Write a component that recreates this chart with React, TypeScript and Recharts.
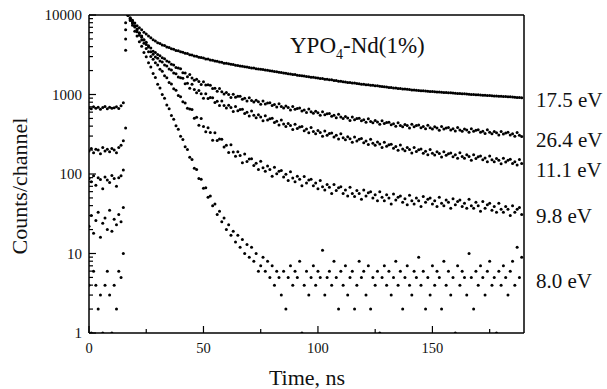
import { ScatterChart, Scatter, XAxis, YAxis, ReferenceDot } from "recharts"

const FONT = '"Liberation Serif", "Times New Roman", serif'

// one channel per ns, channel index = time
const CHANNEL_NS = 1

const X_TICKS = [0, 25, 50, 75, 100, 125, 150, 175]
const X_LABELS = [0, 50, 100, 150]
const Y_TICKS = [
  1, 2, 3, 4, 5, 6, 7, 8, 9, 10, 20, 30, 40, 50, 60, 70, 80, 90, 100, 200, 300, 400, 500, 600, 700, 800, 900, 1000,
  2000, 3000, 4000, 5000, 6000, 7000, 8000, 9000, 10000,
]
const Y_LABELS = [1, 10, 100, 1000, 10000]

// counts per channel, t = 0..189 ns
const S175 = [
  680, 660, 700, 670, 690, 650, 685, 705, 660, 690,
  670, 680, 700, 665, 720, 790, 8000, 10000, 9250, 8600,
  7950, 7350, 6900, 6500, 6080, 5770, 5430, 5180, 4880, 4720,
  4480, 4370, 4180, 4120, 3960, 3900, 3760, 3710, 3580, 3550,
  3440, 3400, 3300, 3270, 3170, 3140, 3050, 3030, 2940, 2910,
  2870, 2800, 2790, 2720, 2700, 2630, 2620, 2560, 2550, 2480,
  2470, 2430, 2400, 2380, 2330, 2320, 2280, 2270, 2230, 2220,
  2180, 2160, 2150, 2110, 2100, 2075, 2060, 2030, 2015, 1990,
  1975, 1945, 1935, 1900, 1895, 1865, 1855, 1825, 1815, 1790,
  1780, 1750, 1735, 1720, 1705, 1680, 1675, 1650, 1645, 1620,
  1612, 1590, 1585, 1560, 1555, 1532, 1528, 1500, 1498, 1472,
  1468, 1445, 1440, 1420, 1416, 1395, 1392, 1372, 1368, 1350,
  1346, 1328, 1325, 1306, 1304, 1286, 1284, 1266, 1262, 1248,
  1244, 1228, 1224, 1210, 1206, 1190, 1188, 1176, 1170, 1162,
  1156, 1142, 1140, 1128, 1126, 1116, 1114, 1104, 1102, 1092,
  1090, 1082, 1078, 1072, 1070, 1062, 1060, 1052, 1050, 1042,
  1040, 1032, 1030, 1022, 1020, 1012, 1010, 1002, 1000, 992,
  990, 984, 982, 976, 974, 968, 966, 960, 958, 952,
  950, 944, 942, 936, 934, 928, 926, 920, 918, 912,
]

const S264 = [
  195, 210, 185, 205, 200, 180, 215, 195, 205, 190,
  210, 200, 185, 215, 230, 262, 6500, 10000, 9000, 8150,
  7250, 6650, 5950, 5450, 4900, 4550, 4100, 3850, 3500, 3380,
  3180, 3080, 2890, 2820, 2630, 2570, 2410, 2350, 2190, 2150,
  2110, 1880, 1870, 1670, 1790, 1610, 1510, 1555, 1460, 1335,
  1450, 1315, 1325, 1310, 1190, 1200, 1100, 1190, 1080, 1015,
  1060, 998, 915, 1008, 926, 948, 952, 873, 895, 830,
  910, 840, 802, 848, 811, 752, 828, 762, 783, 788,
  726, 746, 694, 764, 705, 676, 717, 688, 639, 706,
  651, 669, 674, 621, 639, 595, 655, 605, 580, 615,
  590, 548, 605, 558, 574, 578, 534, 548, 510, 563,
  520, 498, 528, 507, 471, 521, 482, 498, 503, 466,
  481, 448, 496, 459, 442, 470, 452, 421, 466, 431,
  445, 449, 415, 428, 399, 441, 408, 394, 420, 406,
  380, 422, 392, 406, 412, 382, 396, 371, 411, 382,
  369, 393, 380, 355, 395, 367, 379, 385, 357, 370,
  347, 385, 357, 346, 369, 357, 334, 371, 344, 356,
  361, 335, 346, 324, 359, 334, 322, 343, 331, 309,
  343, 319, 329, 334, 309, 320, 299, 332, 308, 297,
]

const S111 = [
  88, 80, 95, 72, 90, 85, 65, 92, 84, 78,
  96, 88, 70, 90, 95, 112, 5000, 10000, 9000, 8050,
  7350, 6500, 5950, 5250, 4850, 4250, 3950, 3450, 3200, 2960,
  2860, 2640, 2560, 2350, 2290, 2090, 2040, 1860, 1820, 1660,
  1620, 1600, 1365, 1390, 1200, 1350, 1160, 1055, 1120, 1025,
  896, 1020, 890, 915, 912, 796, 820, 725, 830, 729,
  677, 735, 688, 612, 707, 625, 649, 654, 577, 600,
  536, 618, 547, 511, 557, 522, 466, 540, 477, 496,
  501, 443, 462, 413, 477, 424, 397, 433, 406, 363,
  421, 373, 389, 395, 351, 368, 331, 385, 343, 322,
  353, 333, 298, 347, 308, 323, 329, 292, 307, 276,
  320, 286, 269, 295, 278, 250, 292, 261, 274, 279,
  248, 261, 235, 274, 244, 230, 253, 239, 215, 250,
  223, 234, 237, 211, 221, 199, 231, 207, 196, 215,
  204, 184, 215, 192, 202, 206, 183, 193, 175, 204,
  183, 173, 191, 181, 164, 191, 172, 180, 184, 165,
  175, 158, 185, 166, 158, 175, 166, 149, 175, 157,
  165, 169, 151, 159, 143, 168, 151, 143, 157, 149,
  135, 158, 142, 149, 153, 136, 143, 130, 152, 136,
]

const S98 = [
  22, 30, 18, 26, 33, 16, 24, 28, 20, 35,
  19, 27, 23, 31, 25, 38, 3600, 10000, 8900, 7850,
  7050, 6150, 5550, 4850, 4400, 3800, 3460, 3000, 2780, 2500,
  2350, 2080, 1960, 1720, 1630, 1420, 1360, 1180, 1130, 970,
  940, 810, 780, 670, 655, 649, 504, 518, 410, 500,
  395, 340, 381, 332, 265, 331, 264, 276, 274, 218,
  230, 186, 233, 189, 167, 191, 171, 139, 178, 144,
  154, 156, 128, 137, 114, 145, 120, 108, 126, 114,
  94, 122, 101, 108, 111, 92, 99, 83, 107, 89,
  80, 94, 86, 71, 93, 77, 84, 86, 71, 77,
  65, 83, 69, 63, 74, 68, 57, 74, 62, 67,
  69, 57, 63, 53, 68, 57, 52, 62, 57, 48,
  63, 53, 58, 60, 50, 55, 46, 60, 51, 46,
  55, 50, 42, 56, 47, 51, 53, 44, 49, 41,
  54, 46, 42, 50, 46, 39, 52, 44, 48, 50,
  42, 46, 39, 51, 43, 40, 47, 44, 37, 49,
  41, 45, 47, 39, 43, 37, 48, 40, 37, 44,
  40, 34, 45, 37, 41, 43, 35, 39, 33, 43,
  36, 33, 39, 36, 30, 40, 33, 36, 38, 31,
]

const S80 = [
  4, 1, 6, 4, 2, 3, 1, 4, 6, 3,
  1, 4, 2, 6, 5, 10, 380, 10000, 8500, 7450,
  6250, 5450, 4600, 4050, 3380, 2990, 2500, 2210, 1840, 1640,
  1350, 1210, 1000, 895, 740, 660, 545, 490, 405, 365,
  298, 272, 220, 203, 162, 152, 118, 114, 88, 86,
  66, 67, 51, 53, 40, 42, 31, 34, 25, 28,
  20, 23, 17, 19, 14, 17, 12, 15, 10, 13,
  9, 12, 8, 10, 6, 7, 9, 6, 8, 5,
  7, 4, 6, 5, 3, 6, 2, 5, 7, 4,
  6, 5, 8, 1, 4, 6, 3, 5, 7, 4,
  6, 5, 11, 3, 5, 6, 4, 8, 5, 2,
  6, 4, 7, 3, 5, 6, 2, 4, 8, 5,
  6, 3, 7, 2, 5, 4, 6, 1, 5, 7,
  4, 6, 3, 5, 8, 4, 6, 2, 5, 7,
  4, 3, 6, 5, 9, 4, 6, 2, 5, 3,
  7, 4, 6, 5, 2, 8, 4, 6, 3, 5,
  1, 7, 4, 6, 5, 3, 10, 5, 2, 6,
  4, 7, 5, 3, 6, 8, 4, 5, 1, 6,
  4, 7, 5, 3, 6, 8, 4, 12, 5, 9,
]

const SERIES = [
  { name: "17.5 eV", values: S175, labelAt: 865 },
  { name: "26.4 eV", values: S264, labelAt: 272 },
  { name: "11.1 eV", values: S111, labelAt: 114 },
  { name: "9.8 eV", values: S98, labelAt: 30 },
  { name: "8.0 eV", values: S80, labelAt: 4.6 },
]

const toPoints = (values: number[]) => values.map((v, i) => ({ t: i * CHANNEL_NS, v }))

const Dot = (props: any) => <circle cx={props.cx} cy={props.cy} r={1.5} fill="#000" />

const BottomTick = ({ x, y, payload }: any) => {
  const major = X_LABELS.includes(payload.value)
  return (
    <g>
      <line x1={x} x2={x} y1={y} y2={y - (major ? 7 : 4)} stroke="#000" strokeWidth={1.2} />
      {major && (
        <text x={x} y={y + 20} textAnchor="middle" fontSize={14.5} fontFamily={FONT} fill="#111">
          {payload.value}
        </text>
      )}
    </g>
  )
}

const TopTick = ({ x, y, payload }: any) => {
  const major = X_LABELS.includes(payload.value)
  return <line x1={x} x2={x} y1={y + 1} y2={y + 1 + (major ? 7 : 4)} stroke="#000" strokeWidth={1.2} />
}

const LeftTick = ({ x, y, payload }: any) => {
  const major = Y_LABELS.includes(payload.value)
  return (
    <g>
      <line x1={x} x2={x + (major ? 7 : 4)} y1={y} y2={y} stroke="#000" strokeWidth={1.2} />
      {major && (
        <text x={x - 7} y={y + 5} textAnchor="end" fontSize={15} fontFamily={FONT} fill="#111">
          {payload.value}
        </text>
      )}
    </g>
  )
}

export default function App() {
  return (
    <div style={{ position: "absolute", left: 0, top: 0, width: 607, height: 389, background: "#fff" }}>
      <ScatterChart width={607} height={389} margin={{ top: 14, right: 82, bottom: 0, left: 0 }}>
        <XAxis
          xAxisId="b"
          type="number"
          dataKey="t"
          domain={[0, 190]}
          ticks={X_TICKS}
          interval={0}
          height={56}
          tickSize={0}
          tickMargin={0}
          tickLine={false}
          axisLine={{ stroke: "#000", strokeWidth: 1.5 }}
          tick={<BottomTick />}
          allowDataOverflow
        />
        <XAxis
          xAxisId="top"
          orientation="top"
          type="number"
          domain={[0, 190]}
          ticks={X_TICKS}
          interval={0}
          height={1}
          tickSize={0}
          tickMargin={0}
          tickLine={false}
          axisLine={{ stroke: "#000", strokeWidth: 1.5 }}
          tick={<TopTick />}
          allowDataOverflow
        />
        <YAxis
          yAxisId="l"
          type="number"
          dataKey="v"
          scale="log"
          domain={[1, 10000]}
          ticks={Y_TICKS}
          interval={0}
          width={89}
          tickSize={0}
          tickMargin={0}
          tickLine={false}
          axisLine={{ stroke: "#000", strokeWidth: 1.5 }}
          tick={<LeftTick />}
          allowDataOverflow
        />
        <YAxis
          yAxisId="r"
          orientation="right"
          type="number"
          scale="log"
          domain={[1, 10000]}
          width={1}
          tick={false}
          tickLine={false}
          axisLine={{ stroke: "#000", strokeWidth: 1.5 }}
          allowDataOverflow
        />
        {SERIES.map((s) => (
          <Scatter
            key={s.name}
            name={s.name}
            xAxisId="b"
            yAxisId="l"
            data={toPoints(s.values)}
            shape={Dot}
            isAnimationActive={false}
          />
        ))}
        {SERIES.map((s) => (
          <ReferenceDot
            key={"lbl" + s.name}
            xAxisId="b"
            yAxisId="l"
            x={190}
            y={s.labelAt}
            r={0}
            fill="none"
            stroke="none"
            ifOverflow="visible"
            label={{ value: s.name, position: "right", offset: 12, fontSize: 21, fill: "#111", fontFamily: FONT }}
          />
        ))}
      </ScatterChart>
      <div
        style={{
          position: "absolute",
          left: 290,
          top: 34,
          fontSize: 23,
          lineHeight: 1,
          fontFamily: FONT,
          color: "#111",
          whiteSpace: "nowrap",
        }}
      >
        YPO<span style={{ fontSize: 14, position: "relative", top: 6 }}>4</span>-Nd(1%)
      </div>
      <div
        style={{
          position: "absolute",
          left: 20,
          top: 186,
          transform: "translate(-50%, -50%) rotate(-90deg)",
          fontSize: 22,
          lineHeight: 1,
          fontFamily: FONT,
          color: "#111",
          whiteSpace: "nowrap",
        }}
      >
        Counts/channel
      </div>
      <div
        style={{
          position: "absolute",
          left: 307,
          top: 367,
          transform: "translateX(-50%)",
          fontSize: 22,
          lineHeight: 1,
          fontFamily: FONT,
          color: "#111",
          whiteSpace: "nowrap",
        }}
      >
        Time, ns
      </div>
    </div>
  )
}
